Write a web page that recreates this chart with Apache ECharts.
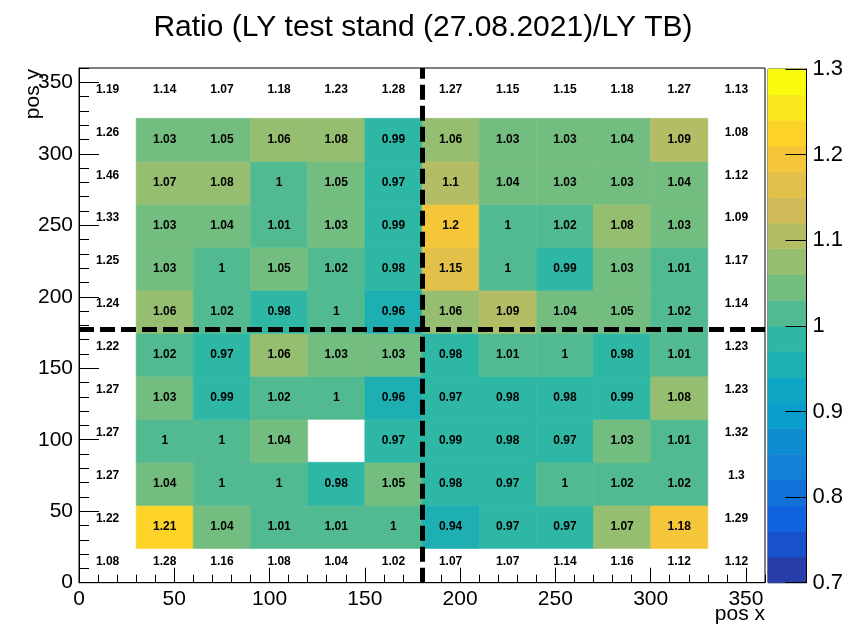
<!DOCTYPE html>
<html>
<head>
<meta charset="utf-8">
<title>Ratio (LY test stand (27.08.2021)/LY TB)</title>
<script src="https://cdn.jsdelivr.net/npm/echarts@6/dist/echarts.min.js"></script>
<style>
  html, body { margin: 0; padding: 0; background: #fff; }
  #main { width: 846px; height: 626px; }
</style>
</head>
<body>
<div id="main"></div>
<script>
// inner 10x10 cells, row 0 = lowest y, columns left to right (null = empty bin)
const innerRows = [
  [1.21, 1.04, 1.01, 1.01, 1,    0.94, 0.97, 0.97, 1.07, 1.18],
  [1.04, 1,    1,    0.98, 1.05, 0.98, 0.97, 1,    1.02, 1.02],
  [1,    1,    1.04, null, 0.97, 0.99, 0.98, 0.97, 1.03, 1.01],
  [1.03, 0.99, 1.02, 1,    0.96, 0.97, 0.98, 0.98, 0.99, 1.08],
  [1.02, 0.97, 1.06, 1.03, 1.03, 0.98, 1.01, 1,    0.98, 1.01],
  [1.06, 1.02, 0.98, 1,    0.96, 1.06, 1.09, 1.04, 1.05, 1.02],
  [1.03, 1,    1.05, 1.02, 0.98, 1.15, 1,    0.99, 1.03, 1.01],
  [1.03, 1.04, 1.01, 1.03, 0.99, 1.2,  1,    1.02, 1.08, 1.03],
  [1.07, 1.08, 1,    1.05, 0.97, 1.1,  1.04, 1.03, 1.03, 1.04],
  [1.03, 1.05, 1.06, 1.08, 0.99, 1.06, 1.03, 1.03, 1.04, 1.09]
];
// outer ring (text only)
const outerTop    = [1.19, 1.14, 1.07, 1.18, 1.23, 1.28, 1.27, 1.15, 1.15, 1.18, 1.27, 1.13];
const outerBottom = [1.08, 1.28, 1.16, 1.08, 1.04, 1.02, 1.07, 1.07, 1.14, 1.16, 1.12, 1.12];
const outerLeft   = [1.22, 1.27, 1.27, 1.27, 1.22, 1.24, 1.25, 1.33, 1.46, 1.26]; // bottom to top
const outerRight  = [1.29, 1.3, 1.32, 1.23, 1.23, 1.14, 1.17, 1.09, 1.12, 1.08];  // bottom to top

const contourLevels = [0.7, 0.73, 0.76, 0.79, 0.82, 0.85, 0.88, 0.91, 0.94, 0.97, 1.0,
                       1.03, 1.06, 1.09, 1.12, 1.15, 1.18, 1.21, 1.24, 1.27, 1.3];
const lineX = 180;
const lineY = 177;

// bins
const binW = 30;
const innerX0 = 30;
const innerY0 = 24;
const innerBinH = 30.08;

// kBird palette
const birdStops = [0, 0.125, 0.25, 0.375, 0.5, 0.625, 0.75, 0.875, 1];
const birdR = [0.2082, 0.0592, 0.0780, 0.0232, 0.1802, 0.5301, 0.8186, 0.9956, 0.9764];
const birdG = [0.1664, 0.3599, 0.5041, 0.6419, 0.7178, 0.7492, 0.7328, 0.7862, 0.9832];
const birdB = [0.5293, 0.8684, 0.8385, 0.7914, 0.6425, 0.4662, 0.3499, 0.1968, 0.0539];

function bird(pos) {
  let i = 0;
  while (i < birdStops.length - 2 && pos > birdStops[i + 1]) i++;
  const t = (pos - birdStops[i]) / (birdStops[i + 1] - birdStops[i]);
  const c = arr => Math.round(255 * (arr[i] + (arr[i + 1] - arr[i]) * t));
  return 'rgb(' + c(birdR) + ',' + c(birdG) + ',' + c(birdB) + ')';
}
const nBands = contourLevels.length - 1;
const bandColors = [];
for (let k = 0; k < nBands; k++) {
  const idx = Math.floor((k + 0.99) * 255 / nBands);
  bandColors.push(bird(Math.min(idx / 254, 1)));
}

const pieces = [];
for (let k = 0; k < nBands; k++) {
  const p = { gte: contourLevels[k], color: bandColors[k] };
  if (k < nBands - 1) p.lt = contourLevels[k + 1]; else p.lte = contourLevels[k + 1];
  pieces.push(p);
}

const cellData = [];
innerRows.forEach((row, j) => {
  row.forEach((v, i) => {
    if (v !== null) cellData.push([innerX0 + i * binW, innerY0 + j * innerBinH, v]);
  });
});

const ringData = [];
outerTop.forEach((v, i) => ringData.push([15 + i * binW, 345, v]));
outerBottom.forEach((v, i) => ringData.push([15 + i * binW, 15, v]));
outerLeft.forEach((v, j) => ringData.push([15, 45 + j * binW, v]));
outerRight.forEach((v, j) => ringData.push([345, 45 + j * binW, v]));

const bandData = [];
for (let k = 0; k < nBands; k++) bandData.push([contourLevels[k], contourLevels[k + 1], k]);

const FONT = '"Liberation Sans", Arial, sans-serif';
const cellFont = 'bold 12px ' + FONT;

const chart = echarts.init(document.getElementById('main'), null, { renderer: 'canvas' });

const baseAxis = {
  min: 0, max: 360,
  axisLine: { show: true, onZero: false, lineStyle: { color: '#000', width: 1 } },
  splitLine: { show: false },
  axisTick: { inside: true, lineStyle: { color: '#000', width: 1 } },
  axisLabel: { color: '#000', fontSize: 21, fontFamily: FONT, margin: 6, showMaxLabel: false }
};

const option = {
  animation: false,
  backgroundColor: '#fff',
  title: {
    text: 'Ratio (LY test stand (27.08.2021)/LY TB)',
    left: 'center', top: 8,
    textStyle: { fontSize: 30, fontWeight: 'normal', color: '#000', fontFamily: FONT }
  },
  grid: [
    { left: 79, top: 68, width: 686, height: 514.7, show: true, borderColor: '#000', borderWidth: 1 },
    { left: 768, top: 69, width: 39, height: 513.7, show: true, borderColor: '#222', borderWidth: 1 }
  ],
  xAxis: [
    Object.assign({}, baseAxis, { gridIndex: 0, type: 'value', position: 'bottom', interval: 50,
      axisTick: Object.assign({}, baseAxis.axisTick, { length: 15 }) }),
    Object.assign({}, baseAxis, { gridIndex: 0, type: 'value', position: 'bottom', interval: 10,
      axisLine: { show: false, onZero: false }, axisLabel: { show: false },
      axisTick: Object.assign({}, baseAxis.axisTick, { length: 8 }) }),
    { gridIndex: 1, type: 'value', min: 0, max: 1, show: false }
  ],
  yAxis: [
    Object.assign({}, baseAxis, { gridIndex: 0, type: 'value', position: 'left', interval: 50,
      axisTick: Object.assign({}, baseAxis.axisTick, { length: 20 }) }),
    Object.assign({}, baseAxis, { gridIndex: 0, type: 'value', position: 'left', interval: 10,
      axisLine: { show: false, onZero: false }, axisLabel: { show: false },
      axisTick: Object.assign({}, baseAxis.axisTick, { length: 10 }) }),
    {
      gridIndex: 1, type: 'value', position: 'right', min: 0.7, max: 1.3, interval: 0.1, z: 10,
      axisLine: { show: true, onZero: false, lineStyle: { color: '#000' } },
      axisTick: { inside: true, length: 21, lineStyle: { color: '#000' } },
      splitLine: { show: false },
      axisLabel: { color: '#000', fontSize: 22, fontFamily: FONT, margin: 6,
        showMinLabel: true, showMaxLabel: true }
    }
  ],
  visualMap: {
    type: 'piecewise', show: false, seriesIndex: 0, dimension: 2, pieces: pieces
  },
  series: [
    {
      type: 'custom', xAxisIndex: 0, yAxisIndex: 0, data: cellData, z: 2,
      renderItem: function (params, api) {
        const x0 = api.value(0), y0 = api.value(1);
        const a = api.coord([x0, y0 + innerBinH]);
        const b = api.coord([x0 + binW, y0]);
        const col = api.visual('color');
        return {
          type: 'group',
          children: [
            { type: 'rect', shape: { x: a[0], y: a[1], width: b[0] - a[0], height: b[1] - a[1] },
              style: { fill: col, stroke: col, lineWidth: 0.6 } },
            { type: 'text', x: (a[0] + b[0]) / 2, y: (a[1] + b[1]) / 2, z2: 10,
              style: { text: String(api.value(2)), fill: '#000', font: cellFont,
                align: 'center', verticalAlign: 'middle' } }
          ]
        };
      },
      markLine: {
        silent: true, symbol: 'none', animation: false,
        label: { show: false },
        lineStyle: { color: '#000', width: 5, type: [15, 6] },
        data: [{ xAxis: lineX }, { yAxis: lineY }]
      }
    },
    {
      type: 'custom', xAxisIndex: 0, yAxisIndex: 0, data: ringData, z: 3,
      renderItem: function (params, api) {
        const p = api.coord([api.value(0), api.value(1)]);
        return { type: 'text', x: p[0], y: p[1],
          style: { text: String(api.value(2)), fill: '#000', font: cellFont,
            align: 'center', verticalAlign: 'middle' } };
      }
    },
    {
      type: 'custom', xAxisIndex: 2, yAxisIndex: 2, data: bandData, z: 1,
      renderItem: function (params, api) {
        const a = api.coord([0, api.value(1)]);
        const b = api.coord([1, api.value(0)]);
        const col = bandColors[api.value(2)];
        return { type: 'rect', shape: { x: a[0], y: a[1], width: b[0] - a[0], height: b[1] - a[1] },
          style: { fill: col, stroke: col, lineWidth: 0.6 } };
      }
    }
  ],
  graphic: [
    { type: 'text', x: 33, y: 69, rotation: Math.PI / 2,
      style: { text: 'pos y', fill: '#000', font: '21px ' + FONT, align: 'right', verticalAlign: 'middle' } },
    { type: 'text', x: 765, y: 614,
      style: { text: 'pos x', fill: '#000', font: '21px ' + FONT, align: 'right', verticalAlign: 'middle' } }
  ]
};

chart.setOption(option);
</script>
</body>
</html>
